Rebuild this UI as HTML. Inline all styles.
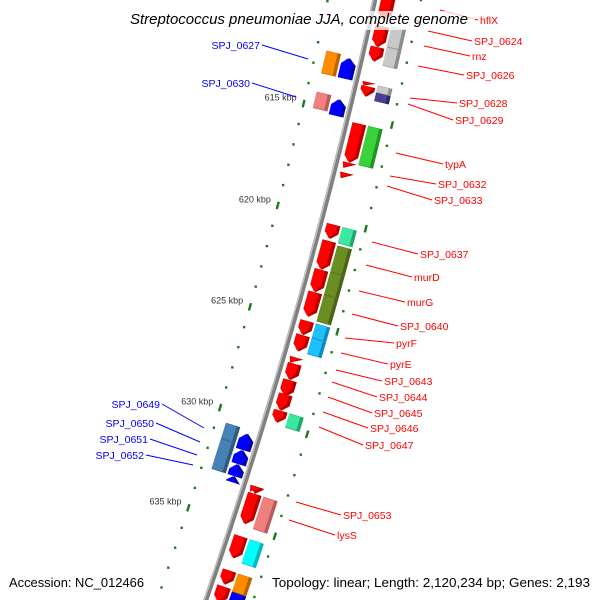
<!DOCTYPE html>
<html><head><meta charset="utf-8"><style>
html,body{margin:0;padding:0;background:#fff;width:600px;height:600px;overflow:hidden;}
svg{display:block;font-family:"Liberation Sans",sans-serif;}
</style></head><body>
<svg id="map" width="600" height="600" viewBox="0 0 600 600" xmlns="http://www.w3.org/2000/svg" overflow="hidden">
<g id="grid"></g>
<g id="backbone"></g>
<g id="genes"></g>
<g id="labels"></g>
<rect x="125" y="11" width="350" height="19" fill="#fff" fill-opacity="0.75"/>
<text x="130" y="24" font-size="14.5" font-style="italic" fill="#000" textLength="338" lengthAdjust="spacingAndGlyphs">Streptococcus pneumoniae JJA, complete genome</text>
<text x="9" y="587" font-size="13" fill="#000" textLength="135" lengthAdjust="spacingAndGlyphs">Accession: NC_012466</text>
<text x="272" y="587" font-size="13" fill="#000" textLength="318" lengthAdjust="spacingAndGlyphs">Topology: linear; Length: 2,120,234 bp; Genes: 2,193</text>
</svg>
<script>
// gene data (kbp)
const geneStart = [609.0,610.6,611.6,610.5,611.5,613.3,613.5,613.35,613.7,615.3,617.2,617.7,615.3,620.2,620.2,621.0,622.4,623.5,621.1,622.4,623.5,624.9,625.6,624.9,625.6,626.7,627.0,627.8,628.5,629.3,629.3,633.05,633.4,633.4,635.5,635.5,637.2,637.2,638.0,638.1,
 612.3,612.4,614.3,614.4,630.6,631.4,630.8,631.6,632.3,632.9];
const geneEnd   = [610.3,611.6,612.3,611.5,612.4,613.5,614.0,613.7,614.1,617.2,617.5,618.0,617.2,620.9,621.0,622.4,623.5,624.7,622.4,623.5,624.8,625.6,626.4,625.6,626.4,627.0,627.8,628.6,629.3,629.9,630.0,633.4,634.9,635.0,636.6,636.7,637.9,638.1,638.8,638.9,
 613.4,613.4,615.1,615.2,631.4,632.9,631.6,632.3,632.9,633.2];
const geneLane  = ['R1','R1','R1','R2','R2','R1','R1','R2','R2','R1','R1','R1','R2','R1','R2','R1','R1','R1','R2','R2','R2','R1','R1','R2','R2','R1','R1','R1','R1','R1','R2','R1','R1','R2','R1','R2','R1','R2','R1','R2',
 'L2','L1','L2','L1','L2','L2','L1','L1','L1','L1'];
const geneColor = ['red','red','red','gray','gray','red','red','gray','purple','red','red','red','green','red','teal','red','red','red','olive','olive','olive','red','red','sky','sky','red','red','red','red','red','teal','red','red','pink','red','cyan','red','orange','red','blue',
 'orange','blue','pink','blue','steel','steel','blue','blue','blue','blue'];
const geneDir   = [1,1,1,0,0,1,1,0,0,1,1,1,0,1,0,1,1,1,0,0,0,1,1,0,0,1,1,1,1,1,0,1,1,0,1,0,1,0,1,0,
 0,-1,0,-1,0,0,-1,-1,-1,-1];
const tickKbp = [615,620,625,630,635];
const tickLabels = ['615 kbp','620 kbp','625 kbp','630 kbp','635 kbp'];
const dotKbp = [609,610,611,612,613,614,616,617,618,619,621,622,623,624,626,627,628,629,631,632,633,634,636,637,638,639];

const PAL = {red:['#ff0000','#b80000'],gray:['#c8c8c8','#8c8c8c'],purple:['#4a3f96','#2e2660'],green:['#3ad23a','#229622'],
 teal:['#3ce8a0','#20a86c'],olive:['#6b8e23','#4a6418'],sky:['#1ec0ff','#0a8cc0'],pink:['#f08080','#b85a5a'],cyan:['#00ffff','#00b8c0'],
 orange:['#ff8c00','#b86400'],blue:['#0000ff','#0000a8'],steel:['#4682b4','#2c5a80']};
const LANE = {R1:[6,20],R2:[22,37],L1:[-19,-4],L2:[-36,-21]};
const NS='http://www.w3.org/2000/svg';
const CX=-4894, CY=-1160, R=5395;
function pt(k,o){const a=(14.79+(k-620)*0.2252)*Math.PI/180;const r=R+o;return [CX+r*Math.cos(a),CY+r*Math.sin(a)];}
function ps(arr){return arr.map(p=>{const q=pt(p[0],p[1]);return q[0].toFixed(1)+','+q[1].toFixed(1);}).join(' ');}
function mk(tag,attrs,parent){const e=document.createElementNS(NS,tag);for(const k in attrs)e.setAttribute(k,attrs[k]);parent.appendChild(e);return e;}

// backbone
const bb=document.getElementById('backbone');
let bpts=[];for(let k=606;k<=641;k+=0.5)bpts.push([k,0]);
let bline=mk('polyline',{points:ps(bpts),fill:'none',stroke:'#808080','stroke-width':5},bb);


let bp2=[];for(let k=606;k<=641;k+=0.5)bp2.push([k,-1.6]);
let bhl=mk('polyline',{points:ps(bp2),fill:'none',stroke:'#c4c4c4','stroke-width':1.3},bb);



// scale
const gr=document.getElementById('grid');
dotKbp.forEach(k=>{
  [-46,45].forEach(o=>{
    const p=pt(k,o);
    const d=mk('rect',{x:(p[0]-1.2).toFixed(1),y:(p[1]-1.2).toFixed(1),width:2.4,height:2.4,fill:'#1a7a1a'},gr);
    
    
  });
});
tickKbp.forEach((k,i)=>{
  [-46,45].forEach(o=>{
    const l=mk('polyline',{points:ps([[k-0.18,o],[k+0.18,o]]),stroke:'#1a7a1a','stroke-width':2.4,fill:'none'},gr);
    
    
  });
  const p=pt(k,-50);
  const t=mk('text',{x:(p[0]-3).toFixed(1),y:(p[1]-2).toFixed(1),'font-size':9,fill:'#333','text-anchor':'end'},gr);
  t.textContent=tickLabels[i];
  
  
});

// genes
const gg=document.getElementById('genes');
function shape(k1,k2,o1,o2,dir){
  const a=Math.min(0.3,k2-k1), m=(o1+o2)/2;
  if(dir===1){ if(k2-k1<=0.35) return [[k1,o1],[k1,o2],[k2,o1+ (o2-o1)*0.15]];
    return [[k1,o1],[k1,o2],[k2-a,o2],[k2,m],[k2-a,o1]]; }
  if(dir===-1){ if(k2-k1<=0.35) return [[k2,o1],[k2,o2],[k1,m]];
    return [[k2,o1],[k2,o2],[k1+a,o2],[k1,m],[k1+a,o1]]; }
  return [[k1,o1],[k1,o2],[k2,o2],[k2,o1]];
}
for(let i=0;i<geneStart.length;i++){
  const ln=LANE[geneLane[i]], c=PAL[geneColor[i]];
  let o1=ln[0], o2=ln[1];
  if(geneColor[i]==='cyan' && geneEnd[i]-geneStart[i]<0.4){o1=ln[0]+2;o2=ln[1]-4;}
  const g=mk('g',{},gg);
  
  
  mk('polygon',{points:ps(shape(geneStart[i],geneEnd[i],o1,o2,geneDir[i])),fill:c[1]},g);
  mk('polygon',{points:ps(shape(geneStart[i]+0.02,geneEnd[i]-0.03,o1,o2-3.5,geneDir[i])),fill:c[0]},g);
}

// labels
const labText=['hflX','SPJ_0624','rnz','SPJ_0626','SPJ_0628','SPJ_0629','typA','SPJ_0632','SPJ_0633','SPJ_0637','murD','murG','SPJ_0640','pyrF','pyrE','SPJ_0643','SPJ_0644','SPJ_0645','SPJ_0646','SPJ_0647','SPJ_0653','lysS'];
const labX=[480,474,472,466,459,455,445,438,434,420,414,407,400,396,390,384,379,374,370,365,343,337];
const labY=[24,45,60,79,107,124,168,188,204,258,281,306,330,347,368,385,401,417,432,449,519,539];
const labFrom=[[440,10],[428,31],[424,46],[418,66],[410,98],[408,104],[396,153],[390,176],[387,186],[372,242],[366,265],[359,291],[352,314],[345,338],[341,353],[336,370],[332,382],[328,397],[323,412],[319,427],[296,502],[289,520]];
const lg=document.getElementById('labels');
for(let i=0;i<labText.length;i++){
  const l=mk('line',{x1:labFrom[i][0],y1:labFrom[i][1],x2:labX[i]-2,y2:labY[i]-4,stroke:'#ff0000','stroke-width':1},lg);
  
  
  const t=mk('text',{x:labX[i],y:labY[i],'font-size':10.5,fill:'#ff0000'},lg);
  t.textContent=labText[i];
  
  
}
const bText=['SPJ_0627','SPJ_0630','SPJ_0649','SPJ_0650','SPJ_0651','SPJ_0652'];
const bX=[260,250,160,154,148,144];
const bY=[49,87,408,427,443,459];
const bTo=[[308,59],[296,97],[204,428],[200,442],[197,455],[193,465]];
for(let i=0;i<bText.length;i++){
  const l=mk('line',{x1:bX[i]+2,y1:bY[i]-4,x2:bTo[i][0],y2:bTo[i][1],stroke:'#0000ff','stroke-width':1},lg);
  
  
  const t=mk('text',{x:bX[i],y:bY[i],'font-size':10.5,fill:'#0000ff','text-anchor':'end'},lg);
  t.textContent=bText[i];
  
  
}
</script>
</body></html>
